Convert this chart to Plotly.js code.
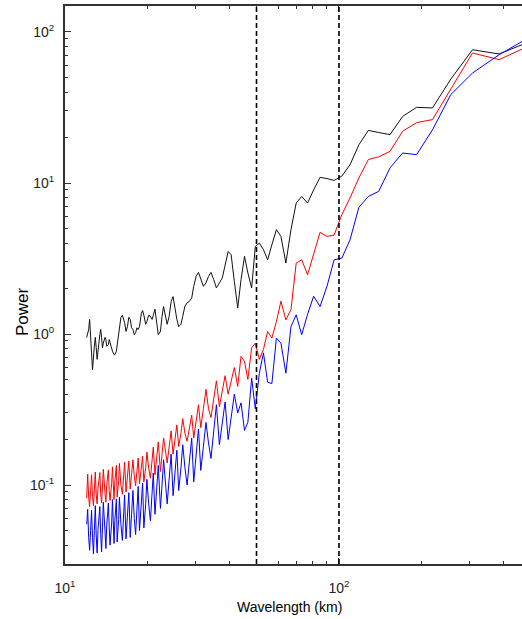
<!DOCTYPE html>
<html>
<head>
<meta charset="utf-8">
<script src="https://cdn.plot.ly/plotly-3.0.1.min.js"></script>
<style>html,body{margin:0;padding:0;background:#fff;overflow:hidden}</style>
</head>
<body>
<div id="chart" style="width:522px;height:619px"></div>
<script>
// Wavelengths (km) of the spectral components, longest to shortest
const wavelength = [512, 384, 307.2, 256, 219.4, 192, 170.7, 153.6, 139.6, 128, 118.2, 109.7, 102.4, 96, 90.4, 85.3, 80.8, 76.8, 73.1, 69.8, 66.8, 64, 61.4, 59.1, 56.9, 54.9, 53.0, 51.2, 49.5, 48, 46.5, 45.2, 43.9,
  42.7, 41.5, 40.4, 39.4, 38.4, 37.5, 36.6, 35.7, 34.9, 34.1, 33.4, 32.7, 32, 31.3, 30.7, 30.1, 29.5, 29.0, 28.4, 27.9, 27.4, 26.9, 26.5, 26.0, 25.6, 25.2, 24.8, 24.4, 24, 23.6, 23.3, 22.9, 22.6, 22.3, 21.9, 21.6, 21.3, 21.0, 20.8, 20.5, 20.2, 19.9, 19.7, 19.4, 19.2, 19.0, 18.7, 18.5, 18.3, 18.1, 17.9, 17.7, 17.5, 17.3, 17.1, 16.9, 16.7, 16.5, 16.3, 16.2, 16, 15.8, 15.7, 15.5, 15.4, 15.2, 15.1, 14.9, 14.8, 14.6, 14.5, 14.4, 14.2, 14.1, 14.0, 13.8, 13.7, 13.6, 13.5, 13.4, 13.2, 13.1, 13.0, 12.9, 12.8, 12.7, 12.6, 12.5, 12.4, 12.3, 12.2, 12.1, 12.0];

const powerBlack = [88.3, 71.5, 76.3, 48.8, 31.4, 31.7, 27.6, 20.9, 21.6, 22.3, 17.9, 13.2, 11.1, 10.4, 10.7, 10.9, 9.0, 7.37, 8.15, 7.37, 4.91, 2.95, 4.43, 4.91, 3.90, 3.10, 3.62, 4.00, 3.80, 2.02, 2.54, 3.27, 2.29,
  1.49, 2.23, 3.35, 3.52, 2.80, 2.35, 2.18, 2.02, 2.29, 2.56, 2.41, 2.18, 2.07, 2.29, 2.56, 2.41, 2.07, 1.73, 1.64, 1.61, 1.53, 1.31, 1.16, 1.12, 1.25, 1.49, 1.77, 1.64, 1.31, 1.16, 1.31, 1.52, 1.31, 1.04, 0.99, 1.25, 1.46, 1.33, 1.25, 1.31, 1.33, 1.21, 1.16, 1.33, 1.43, 1.37, 1.12, 1.07, 1.10, 1.02, 0.99, 1.07, 1.10, 1.25, 1.29, 1.12, 1.04, 1.19, 1.31, 1.33, 1.29, 1.07, 0.95, 0.85, 0.77, 0.73, 0.73, 0.77, 0.81, 0.87, 0.92, 0.85, 0.83, 0.92, 0.95, 0.87, 0.81, 0.95, 1.07, 0.99, 0.77, 0.68, 0.81, 0.95, 0.83, 0.64, 0.58, 0.75, 0.97, 1.25, 1.07, 0.98, 0.95];

const powerRed = [83.3, 65.6, 72.6, 41.5, 26.3, 25.1, 22.0, 16.2, 14.9, 14.3, 10.8, 7.96, 6.17, 4.52, 4.43, 4.71, 3.35, 2.47, 3.10, 2.95, 1.45, 1.24, 1.65, 1.21, 0.94, 1.04, 0.79, 0.68, 0.87, 0.81, 0.50, 0.66, 0.71,
  0.45, 0.60, 0.49, 0.40, 0.53, 0.42, 0.33, 0.49, 0.37, 0.28, 0.32, 0.43, 0.32, 0.24, 0.34, 0.26, 0.205, 0.29, 0.24, 0.195, 0.22, 0.275, 0.22, 0.18, 0.25, 0.20, 0.16, 0.228, 0.18, 0.14, 0.165, 0.205, 0.16, 0.123, 0.193, 0.15, 0.117, 0.178, 0.14, 0.111, 0.13, 0.165, 0.13, 0.105, 0.155, 0.125, 0.102, 0.151, 0.122, 0.099, 0.115, 0.147, 0.118, 0.094, 0.144, 0.113, 0.090, 0.142, 0.11, 0.087, 0.10, 0.139, 0.107, 0.083, 0.135, 0.105, 0.080,
  0.132, 0.102, 0.079, 0.092, 0.126, 0.10, 0.077, 0.088, 0.127, 0.097, 0.076, 0.087, 0.121, 0.095, 0.075, 0.086, 0.122, 0.094, 0.073, 0.084, 0.117, 0.092, 0.072, 0.083, 0.118, 0.082];

const powerBlue = [95.5, 70.7, 53.5, 38.5, 22.5, 15.4, 15.8, 12.6, 8.8, 8.15, 6.9, 4.2, 3.18, 3.1, 2.07, 1.52, 1.78, 1.35, 0.99, 1.34, 1.12, 0.55, 0.87, 0.94, 0.47, 0.48, 0.75, 0.55, 0.32, 0.51, 0.26, 0.23, 0.35,
  0.30, 0.40, 0.29, 0.20, 0.355, 0.26, 0.185, 0.34, 0.23, 0.15, 0.19, 0.26, 0.18, 0.125, 0.235, 0.16, 0.105, 0.205, 0.145, 0.10, 0.13, 0.185, 0.13, 0.092, 0.17, 0.12, 0.085, 0.16, 0.11, 0.075, 0.10, 0.147, 0.10, 0.07, 0.135, 0.093, 0.064, 0.12, 0.083, 0.058, 0.075, 0.109, 0.075, 0.052, 0.103, 0.072, 0.050, 0.098, 0.068, 0.047, 0.06, 0.092, 0.064, 0.045, 0.089, 0.063, 0.044, 0.086, 0.061, 0.043, 0.055, 0.083, 0.059, 0.042, 0.081, 0.058, 0.041,
  0.080, 0.056, 0.040, 0.052, 0.076, 0.054, 0.038, 0.049, 0.077, 0.052, 0.036, 0.047, 0.072, 0.051, 0.0355, 0.046, 0.073, 0.05, 0.035, 0.045, 0.068, 0.05, 0.037, 0.045, 0.069, 0.055];

const markerWavelengths = [50, 100];
const xMajor = [10, 100];
const xMajorText = ['10<sup>1</sup>', '10<sup>2</sup>'];
const xMinor = [20, 30, 40, 50, 60, 70, 80, 90, 200, 300, 400];
const yMajor = [0.1, 1, 10, 100];
const yMajorText = ['10<sup>-1</sup>', '10<sup>0</sup>', '10<sup>1</sup>', '10<sup>2</sup>'];
const yMinor = [0.04, 0.05, 0.06, 0.07, 0.08, 0.09, 0.2, 0.3, 0.4, 0.5, 0.6, 0.7, 0.8, 0.9, 2, 3, 4, 5, 6, 7, 8, 9, 20, 30, 40, 50, 60, 70, 80, 90];

const FONT = 'Liberation Sans, Arial, sans-serif';

const traces = [
  {x: wavelength, y: powerBlack, mode: 'lines', line: {color: '#111111', width: 1}, hoverinfo: 'skip'},
  {x: wavelength, y: powerRed, mode: 'lines', line: {color: '#ff0000', width: 1}, hoverinfo: 'skip'},
  {x: wavelength, y: powerBlue, mode: 'lines', line: {color: '#0000ff', width: 1}, hoverinfo: 'skip'}
];

const shapes = markerWavelengths.map(w => ({
  type: 'line', xref: 'x', yref: 'paper', x0: w, x1: w, y0: 0, y1: 1,
  line: {color: '#000', width: 1.6, dash: '5px,3px'}
}));

const layout = {
  width: 522, height: 619,
  margin: {l: 65, r: 0, t: 6, b: 55},
  paper_bgcolor: '#fff', plot_bgcolor: '#fff',
  showlegend: false,
  font: {family: FONT, size: 14, color: '#222'},
  xaxis: {
    type: 'log', range: [1, 2.668],
    showgrid: false, zeroline: false,
    showline: true, linecolor: '#333', linewidth: 2, mirror: 'ticks',
    ticks: 'inside', ticklen: 6, tickwidth: 1, tickcolor: '#333',
    tickmode: 'array', tickvals: xMajor, ticktext: xMajorText,
    ticklabelstandoff: 10,
    tickfont: {family: FONT, size: 14, color: '#222'},
    minor: {tickmode: 'array', tickvals: xMinor, ticks: 'inside', ticklen: 3, tickwidth: 1, tickcolor: '#333', showgrid: false}
  },
  yaxis: {
    type: 'log', range: [Math.log10(0.03), Math.log10(148.6)],
    showgrid: false, zeroline: false,
    showline: true, linecolor: '#333', linewidth: 2, mirror: false,
    ticks: 'inside', ticklen: 6, tickwidth: 1, tickcolor: '#333',
    tickmode: 'array', tickvals: yMajor, ticktext: yMajorText,
    ticklabelstandoff: 6,
    tickfont: {family: FONT, size: 14, color: '#222'},
    minor: {tickmode: 'array', tickvals: yMinor, ticks: 'inside', ticklen: 3, tickwidth: 1, tickcolor: '#333', showgrid: false}
  },
  shapes: shapes,
  annotations: [
    {text: 'Power', xref: 'paper', yref: 'paper', x: -0.094, y: 0.4516, textangle: -90,
     showarrow: false, xanchor: 'center', yanchor: 'middle', font: {family: FONT, size: 17, color: '#000'}},
    {text: 'Wavelength (km)', xref: 'paper', yref: 'paper', x: 0.492, y: -0.077,
     showarrow: false, xanchor: 'center', yanchor: 'middle', font: {family: FONT, size: 14, color: '#000'}}
  ]
};

Plotly.newPlot('chart', traces, layout, {staticPlot: true, displayModeBar: false});
</script>
</body>
</html>
